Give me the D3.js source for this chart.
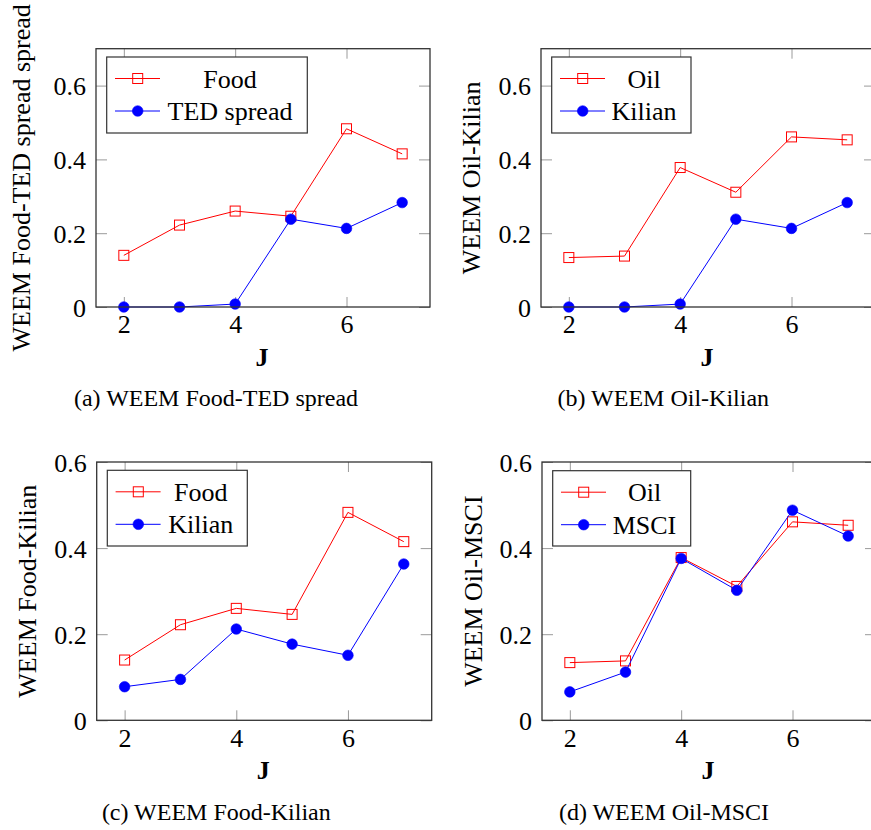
<!DOCTYPE html>
<html>
<head>
<meta charset="utf-8">
<script src="https://cdn.jsdelivr.net/npm/d3@7"></script>
<style>
  html, body { margin: 0; padding: 0; background: #fff; }
  svg { display: block; }
</style>
</head>
<body>
<svg id="chart" width="871" height="830"></svg>
<script>
// Number of wavelet scales J on the x axis
const J = [2, 3, 4, 5, 6, 7];
const xTicks = [2, 4, 6];
const yTicksTop = [0, 0.2, 0.4, 0.6];
const yTicksBottom = [0, 0.2, 0.4, 0.6];

// WEEM values per commodity / financial indicator
const food = [0.14, 0.222, 0.26, 0.246, 0.483, 0.415];
const oil = [0.134, 0.138, 0.378, 0.311, 0.461, 0.453];
const tedSpread = [0, 0, 0.008, 0.238, 0.213, 0.283];
const kilianOil = [0, 0, 0.008, 0.238, 0.213, 0.283];
const kilianFood = [0.078, 0.095, 0.212, 0.177, 0.151, 0.363];
const msci = [0.066, 0.112, 0.376, 0.302, 0.488, 0.428];

const panels = [
  { left: 96, right: 430, top: 48.7, bottom: 307, ymax: 0.7, yTicks: yTicksTop,
    ylabel: "WEEM Food-TED spread spread", ylabelX: 30,
    legend: { x: 106.7, y: 57, w: 200.6, h: 76, textX: 230 },
    caption: "(a) WEEM Food-TED spread", capX: 216, capY: 406,
    series: [{ name: "Food", values: food, kind: "square" }, { name: "TED spread", values: tedSpread, kind: "circle" }] },
  { left: 541, right: 875, top: 48.7, bottom: 307, ymax: 0.7, yTicks: yTicksTop,
    ylabel: "WEEM Oil-Kilian", ylabelX: 480,
    legend: { x: 551.7, y: 57, w: 139.3, h: 76, textX: 644 },
    caption: "(b) WEEM Oil-Kilian", capX: 663.3, capY: 406,
    series: [{ name: "Oil", values: oil, kind: "square" }, { name: "Kilian", values: kilianOil, kind: "circle" }] },
  { left: 96.7, right: 431.7, top: 462, bottom: 720.3, ymax: 0.6, yTicks: yTicksBottom,
    ylabel: "WEEM Food-Kilian", ylabelX: 36,
    legend: { x: 107.3, y: 470.3, w: 140, h: 75.7, textX: 200.7 },
    caption: "(c) WEEM Food-Kilian", capX: 216.3, capY: 820,
    series: [{ name: "Food", values: food, kind: "square" }, { name: "Kilian", values: kilianFood, kind: "circle" }] },
  { left: 542, right: 876, top: 462, bottom: 720.3, ymax: 0.6, yTicks: yTicksBottom,
    ylabel: "WEEM Oil-MSCI", ylabelX: 481.5,
    legend: { x: 552.7, y: 470.7, w: 138, h: 75.3, textX: 644.5 },
    caption: "(d) WEEM Oil-MSCI", capX: 664, capY: 820,
    series: [{ name: "Oil", values: oil, kind: "square" }, { name: "MSCI", values: msci, kind: "circle" }] }
];

const colors = { square: "#ff0000", circle: "#0000ff" };
const svg = d3.select("#chart");
const fontSize = 26;
const serif = "Liberation Serif";

function label(sel) {
  return sel.attr("font-family", serif).style("font-family", serif).attr("fill", "#000");
}

function drawMarker(g, kind, cx, cy) {
  if (kind === "square") {
    g.append("rect")
      .attr("x", cx - 5).attr("y", cy - 5).attr("width", 10).attr("height", 10)
      .attr("fill", "none").attr("stroke", colors.square).attr("stroke-width", 1);
  } else {
    g.append("circle")
      .attr("cx", cx).attr("cy", cy).attr("r", 5.3)
      .attr("fill", colors.circle).attr("stroke", colors.circle).attr("stroke-width", 0.6);
  }
}

panels.forEach(p => {
  const x = d3.scaleLinear().domain([1.5, 7.5]).range([p.left, p.right]);
  const y = d3.scaleLinear().domain([0, p.ymax]).range([p.bottom, p.top]);
  const g = svg.append("g");

  const styleAxis = sel => {
    sel.attr("font-family", serif).attr("font-size", fontSize);
    sel.select(".domain").remove();
    sel.selectAll(".tick line").attr("stroke", "#9a9a9a").attr("stroke-width", 1);
    label(sel.selectAll(".tick text")).attr("font-size", fontSize);
  };

  // inward tick marks on all four sides
  g.append("g").attr("transform", `translate(0,${p.bottom})`)
    .call(d3.axisBottom(x).tickValues(xTicks).tickFormat(d3.format("d"))
      .tickSizeInner(-10).tickSizeOuter(0).tickPadding(8))
    .call(styleAxis);
  g.append("g").attr("transform", `translate(0,${p.top})`)
    .call(d3.axisTop(x).tickValues(xTicks).tickFormat("").tickSizeInner(-10).tickSizeOuter(0))
    .call(styleAxis);
  g.append("g").attr("transform", `translate(${p.left},0)`)
    .call(d3.axisLeft(y).tickValues(p.yTicks).tickFormat(d => d === 0 ? "0" : d3.format(".1f")(d))
      .tickSizeInner(-11).tickSizeOuter(0).tickPadding(10))
    .call(styleAxis)
    .call(sel => sel.selectAll(".tick text").attr("dy", "0.36em"));
  g.append("g").attr("transform", `translate(${p.right},0)`)
    .call(d3.axisRight(y).tickValues(p.yTicks).tickFormat("").tickSizeInner(-11).tickSizeOuter(0))
    .call(styleAxis);

  // data lines and markers
  p.series.forEach(s => {
    const line = d3.line().x((d, i) => x(J[i])).y(d => y(d));
    g.append("path").datum(s.values)
      .attr("d", line).attr("fill", "none")
      .attr("stroke", colors[s.kind]).attr("stroke-width", 1);
    const mg = g.append("g");
    s.values.forEach((v, i) => drawMarker(mg, s.kind, x(J[i]), y(v)));
  });

  // plot frame
  g.append("rect")
    .attr("x", p.left).attr("y", p.top)
    .attr("width", p.right - p.left).attr("height", p.bottom - p.top)
    .attr("fill", "none").attr("stroke", "#333").attr("stroke-width", 1.3);

  // legend
  const L = p.legend;
  const lg = g.append("g");
  lg.append("rect").attr("x", L.x).attr("y", L.y).attr("width", L.w).attr("height", L.h)
    .attr("fill", "#fff").attr("stroke", "#333").attr("stroke-width", 1.2);
  const rowY = [L.y + 21.5, L.y + 54];
  p.series.forEach((s, i) => {
    lg.append("line")
      .attr("x1", L.x + 8.3).attr("x2", L.x + 53.3)
      .attr("y1", rowY[i]).attr("y2", rowY[i])
      .attr("stroke", colors[s.kind]).attr("stroke-width", 1);
    drawMarker(lg, s.kind, L.x + 31, rowY[i]);
    label(lg.append("text"))
      .attr("x", L.textX).attr("y", rowY[i] + 9)
      .attr("text-anchor", "middle").attr("font-size", fontSize)
      .text(s.name);
  });

  // axis titles
  label(g.append("text"))
    .attr("transform", `translate(${p.ylabelX},${(p.top + p.bottom) / 2}) rotate(-90)`)
    .attr("text-anchor", "middle").attr("font-size", fontSize)
    .text(p.ylabel);
  label(g.append("text"))
    .attr("x", (p.left + p.right) / 2 - 1)
    .attr("y", p.bottom + 59)
    .attr("text-anchor", "middle").attr("font-size", fontSize).attr("font-weight", "bold")
    .text("J");

  // caption
  label(g.append("text"))
    .attr("x", p.capX).attr("y", p.capY)
    .attr("text-anchor", "middle").attr("font-size", 24)
    .text(p.caption);
});
</script>
</body>
</html>
